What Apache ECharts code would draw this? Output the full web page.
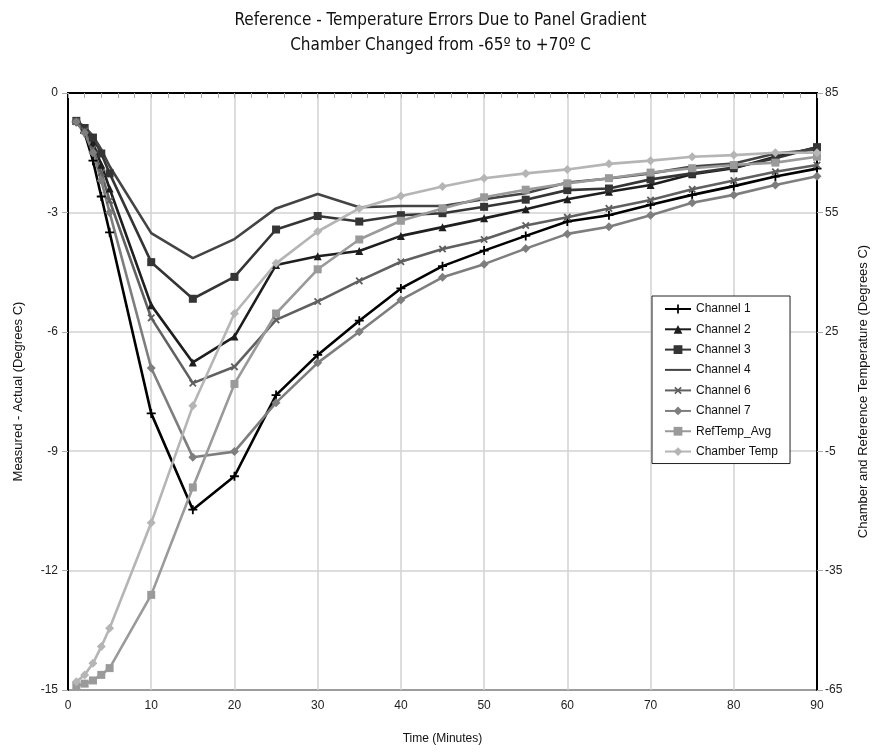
<!DOCTYPE html>
<html>
<head>
<meta charset="utf-8">
<script src="https://cdn.jsdelivr.net/npm/echarts@6/dist/echarts.min.js"></script>
<style>html,body{margin:0;padding:0;background:#fff}#c{width:881px;height:753px}</style>
</head>
<body>
<div id="c"></div>
<script>
var times = [1,2,3,4,5,10,15,20,25,30,35,40,45,50,55,60,65,70,75,80,85,90];
var ch1 = [-0.72,-1.0,-1.7,-2.6,-3.5,-8.05,-10.47,-9.63,-7.59,-6.58,-5.72,-4.91,-4.35,-3.96,-3.59,-3.23,-3.07,-2.81,-2.56,-2.34,-2.10,-1.90];
var ch2 = [-0.70,-0.90,-1.25,-1.80,-2.40,-5.33,-6.77,-6.12,-4.32,-4.10,-3.97,-3.59,-3.37,-3.15,-2.92,-2.67,-2.48,-2.31,-2.04,-1.89,-1.60,-1.37];
var ch3 = [-0.70,-0.88,-1.12,-1.52,-2.02,-4.25,-5.17,-4.62,-3.43,-3.09,-3.23,-3.07,-3.02,-2.86,-2.68,-2.44,-2.40,-2.17,-2.02,-1.87,-1.64,-1.36];
var ch4 = [-0.70,-0.85,-1.08,-1.42,-1.84,-3.52,-4.15,-3.67,-2.90,-2.54,-2.87,-2.84,-2.84,-2.67,-2.52,-2.25,-2.15,-2.02,-1.85,-1.77,-1.52,-1.42];
var ch6 = [-0.72,-0.95,-1.40,-2.00,-2.70,-5.65,-7.29,-6.88,-5.70,-5.24,-4.72,-4.24,-3.92,-3.68,-3.33,-3.12,-2.90,-2.69,-2.42,-2.20,-1.98,-1.81];
var ch7 = [-0.72,-1.00,-1.50,-2.20,-3.00,-6.91,-9.15,-9.01,-7.78,-6.78,-6.00,-5.20,-4.63,-4.30,-3.91,-3.54,-3.36,-3.07,-2.76,-2.56,-2.31,-2.09];
var refTemp = [-64.0,-63.4,-62.6,-61.2,-59.5,-41.1,-14.1,11.9,29.6,40.7,48.2,52.9,56.0,58.8,60.7,62.3,63.6,65.0,66.1,66.9,67.5,69.0];
var chamber = [-62.9,-61.2,-58.3,-54.1,-49.5,-23.0,6.4,29.6,42.2,50.2,56.0,59.1,61.5,63.6,64.8,65.8,67.2,68.0,69.0,69.4,70.0,70.0];
var leftTicks = {min:-15, max:0, interval:3};
var rightTicks = {min:-65, max:85, interval:30};
var names = ['Channel 1','Channel 2','Channel 3','Channel 4','Channel 6','Channel 7','RefTemp_Avg','Chamber Temp'];

function pairs(v){ return times.map(function(t,i){return [t,v[i]];}); }

var plusPath = 'path://M4,0h2v4h4v2h-4v4h-2v-4h-4v-2h4z';
var font = 'Liberation Sans, Arial, sans-serif';

function mk(name, data, color, symbol, size, yi, extra){
  var s = {
    name:name, type:'line', data:pairs(data), yAxisIndex:yi||0,
    symbol:symbol, symbolSize:size, showSymbol: symbol!=='none',
    lineStyle:{color:color, width:2.6},
    itemStyle:{color:color},
    animation:false, z: 3
  };
  if (extra) for (var k in extra) s[k]=extra[k];
  return s;
}

var legendData = names.map(function(n){
  if (n === 'Channel 4') return {name:n, itemStyle:{opacity:0}};
  return {name:n};
});

var chart = echarts.init(document.getElementById('c'));
chart.setOption({
  backgroundColor:'#fff',
  animation:false,
  title:{
    text:'Reference - Temperature Errors Due to Panel Gradient\nChamber Changed from -65º to +70º C',
    left:'center', top:3,
    textStyle:{fontFamily:'Liberation Sans Narrow, DejaVu Sans Condensed, sans-serif', fontSize:17, fontWeight:'normal', color:'#111', lineHeight:25}
  },
  legend:{
    data:legendData, orient:'vertical', left:652, top:296,
    backgroundColor:'#fff', borderColor:'#222', borderWidth:1,
    padding:[7,12,6,12], itemGap:8.3, itemWidth:26, itemHeight:11,
    textStyle:{fontFamily:font, fontSize:12, color:'#111'}
  },
  grid:{left:68, right:64, top:93, bottom:63, show:true, borderColor:'#000', borderWidth:2, backgroundColor:'transparent'},
  xAxis:{
    type:'value', min:0, max:90, interval:10,
    name:'Time (Minutes)', nameLocation:'middle', nameGap:43,
    nameTextStyle:{fontFamily:font, fontSize:12, color:'#111'},
    axisLine:{show:true, lineStyle:{color:'#000', width:2}},
    axisTick:{show:true, length:5, lineStyle:{color:'#aaa'}},
    minorTick:{show:true, splitNumber:5, length:5, lineStyle:{color:'#aaa'}},
    axisLabel:{fontFamily:font, fontSize:12, color:'#222', margin:10},
    splitLine:{show:true, lineStyle:{color:'#d2d2d2', width:1.5}}
  },
  yAxis:[{
    type:'value', min:leftTicks.min, max:leftTicks.max, interval:leftTicks.interval,
    name:'Measured - Actual (Degrees C)', nameLocation:'middle', nameGap:43,
    nameTextStyle:{fontFamily:font, fontSize:13, color:'#111'},
    axisLine:{show:true, lineStyle:{color:'#000', width:2}},
    axisTick:{show:true, length:6, lineStyle:{color:'#aaa'}},
    axisLabel:{fontFamily:font, fontSize:12, color:'#222', margin:10},
    splitLine:{show:true, lineStyle:{color:'#d2d2d2', width:1.5}}
  },{
    type:'value', min:rightTicks.min, max:rightTicks.max, interval:rightTicks.interval,
    position:'right',
    name:'Chamber and Reference Temperature (Degrees C)', nameLocation:'middle', nameGap:40,
    nameRotate:90,
    nameTextStyle:{fontFamily:font, fontSize:13, color:'#111'},
    axisLine:{show:true, lineStyle:{color:'#000', width:2}},
    axisTick:{show:true, length:6, lineStyle:{color:'#aaa'}},
    axisLabel:{fontFamily:font, fontSize:12, color:'#222', margin:8},
    splitLine:{show:false}
  }],
  series:[
    mk('Channel 1', ch1, '#000000', plusPath, 9, 0),
    mk('Channel 2', ch2, '#1e1e1e', 'triangle', 8, 0),
    mk('Channel 3', ch3, '#353535', 'rect', 8, 0),
    mk('Channel 4', ch4, '#444444', 'none', 0, 0),
    mk('Channel 6', ch6, '#606060', plusPath, 9, 0, {symbolRotate:45}),
    mk('Channel 7', ch7, '#7e7e7e', 'diamond', 9, 0),
    mk('RefTemp_Avg', refTemp, '#9a9a9a', 'rect', 8, 1),
    mk('Chamber Temp', chamber, '#b5b5b5', 'diamond', 9, 1)
  ]
});
</script>
</body>
</html>
